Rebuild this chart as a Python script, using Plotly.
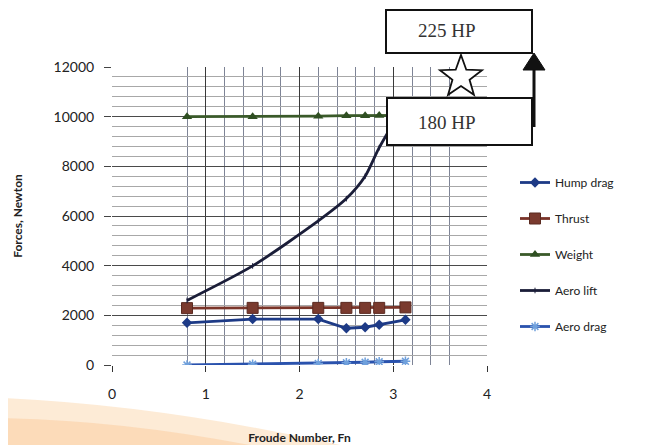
import math
import plotly.graph_objects as go

# ---- data ----
froude = [0.8, 1.5, 2.2, 2.5, 2.7, 2.85, 3.13]
hump_drag = [1700, 1850, 1850, 1480, 1520, 1620, 1820]
thrust = [2290, 2300, 2300, 2300, 2300, 2300, 2320]
weight = [10000, 10000, 10020, 10040, 10040, 10050, 10050]
aero_lift = [2600, 3990, 5800, 6700, 7600, 8750, 10550]
aero_drag = [0, 30, 60, 90, 110, 130, 150]
x_ticks = [0, 1, 2, 3, 4]
y_ticks = [0, 2000, 4000, 6000, 8000, 10000, 12000]
minor_x = [0.8, 1.2, 1.4, 1.6, 1.8, 2.2, 2.4, 2.6, 2.8, 3.2, 3.4, 3.6]

W, H = 657, 445
OFF = 8  # page body margin
L, R, T, B = 112, 487, 67, 365  # plot area in screen pixels


def px(x):
    return (x - L) / (R - L)


def py(y):
    return (B - y) / (B - T)


fig = go.Figure()

series = [
    ("Hump drag", hump_drag, "#1d3a86", dict(symbol="diamond", size=8, color="#1d3a86"), "linear"),
    ("Thrust", thrust, "#7a3429", dict(symbol="square", size=11, color="#7a3a2e", line=dict(color="#5a2a20", width=1)), "linear"),
    ("Weight", weight, "#3a5a2a", dict(symbol="triangle-up", size=9, color="#2f4f22"), "linear"),
    ("Aero lift", aero_lift, "#1a1d38", dict(symbol="line-ns", size=4, color="#1a1d38", line=dict(width=1, color="#1a1d38")), "spline"),
    ("Aero drag", aero_drag, "#2a52ad", dict(symbol="asterisk-open", size=8, color="#6fa0dc", line=dict(width=1.5, color="#6fa0dc")), "linear"),
]
for i, (name, ys, col, mk, shape) in enumerate(series):
    fig.add_trace(go.Scatter(
        x=froude, y=ys, name=name, mode="lines+markers",
        line=dict(color=col, width=2.8, shape=shape, smoothing=0.7),
        marker=mk, legendgroup=f"g{i}",
    ))

shapes = []
# watermark swoosh bottom-left
shapes.append(dict(type="path", xref="paper", yref="paper", layer="below",
                   path=f"M {px(0)},{py(398)} Q {px(160)},{py(405)} {px(340)},{py(445)} L {px(0)},{py(445)} Z",
                   fillcolor="rgba(252,218,180,0.55)", line=dict(width=0)))
shapes.append(dict(type="path", xref="paper", yref="paper", layer="below",
                   path=f"M {px(0)},{py(418)} Q {px(120)},{py(420)} {px(250)},{py(445)} L {px(0)},{py(445)} Z",
                   fillcolor="rgba(250,200,150,0.45)", line=dict(width=0)))
# boxes
shapes.append(dict(type="rect", xref="paper", yref="paper", x0=px(386), x1=px(532), y0=py(10), y1=py(53),
                   fillcolor="white", line=dict(color="#111", width=2)))
shapes.append(dict(type="rect", xref="paper", yref="paper", x0=px(387), x1=px(532), y0=py(98), y1=py(145),
                   fillcolor="white", line=dict(color="#111", width=2)))
# star outline
cx, cy, ro, ri = 461, 77, 22, 9
pts = []
for k in range(10):
    ang = -math.pi / 2 + k * math.pi / 5
    r = ro if k % 2 == 0 else ri
    pts.append((cx + r * math.cos(ang), cy + r * math.sin(ang)))
path = "M " + " L ".join(f"{px(a)},{py(b)}" for a, b in pts) + " Z"
shapes.append(dict(type="path", xref="paper", yref="paper", path=path,
                   fillcolor="white", line=dict(color="#111", width=1.8)))
# arrow
shapes.append(dict(type="line", xref="paper", yref="paper", x0=px(534), x1=px(534), y0=py(127), y1=py(66),
                   line=dict(color="#111", width=3)))
shapes.append(dict(type="path", xref="paper", yref="paper",
                   path=f"M {px(523)},{py(70)} L {px(534)},{py(53)} L {px(545)},{py(70)} Z",
                   fillcolor="#111", line=dict(color="#111", width=1)))

annotations = [
    dict(text="225 HP", xref="paper", yref="paper", x=px(447), y=py(31), showarrow=False,
         xanchor="center", yanchor="middle",
         font=dict(family="Liberation Serif", size=19, color="#333")),
    dict(text="180 HP", xref="paper", yref="paper", x=px(447), y=py(122), showarrow=False,
         xanchor="center", yanchor="middle",
         font=dict(family="Liberation Serif", size=19, color="#333")),
]

fig.update_layout(
    width=W - OFF, height=H - OFF, autosize=False,
    margin=dict(l=L - OFF, r=W - R, t=T - OFF, b=H - B, pad=0, autoexpand=False),
    paper_bgcolor="white", plot_bgcolor="white",
    font=dict(family="Lato", size=12, color="#222"),
    shapes=shapes, annotations=annotations,
    legend=dict(x=px(515), y=py(168), xanchor="left", yanchor="top",
                font=dict(family="Lato", size=12, color="#222"),
                tracegroupgap=17, itemwidth=30, bgcolor="rgba(0,0,0,0)"),
    xaxis=dict(range=[0, 4], tickvals=x_ticks, ticktext=[str(v) for v in x_ticks],
               automargin=False,
               showgrid=True, gridcolor="#3a3a3a", gridwidth=1.2,
               ticks="outside", ticklen=6, tickcolor="#333", showline=False, zeroline=False,
               ticklabelstandoff=10,
               tickfont=dict(family="Lato", size=14, color="#222"),
               minor=dict(tickmode="array", tickvals=minor_x, showgrid=True, gridcolor="#7e8496", gridwidth=1),
               title=dict(text="<b>Froude Number, Fn</b>", standoff=32, font=dict(family="Lato", size=12, color="#222"))),
    yaxis=dict(range=[0, 12000], tickvals=y_ticks, ticktext=[str(v) for v in y_ticks],
               automargin=False,
               showgrid=True, gridcolor="#4a4a4a", gridwidth=1.3,
               ticks="outside", ticklen=7, tickcolor="#444", showline=False, zeroline=False,
               ticklabelstandoff=7,
               tickfont=dict(family="Lato", size=14, color="#222"),
               minor=dict(dtick=400, showgrid=True, gridcolor="#a8a8a8", gridwidth=1),
               title=dict(text="<b>Forces, Newton</b>", standoff=28, font=dict(family="Lato", size=12, color="#222"))),
)

fig.write_html("out.html")
